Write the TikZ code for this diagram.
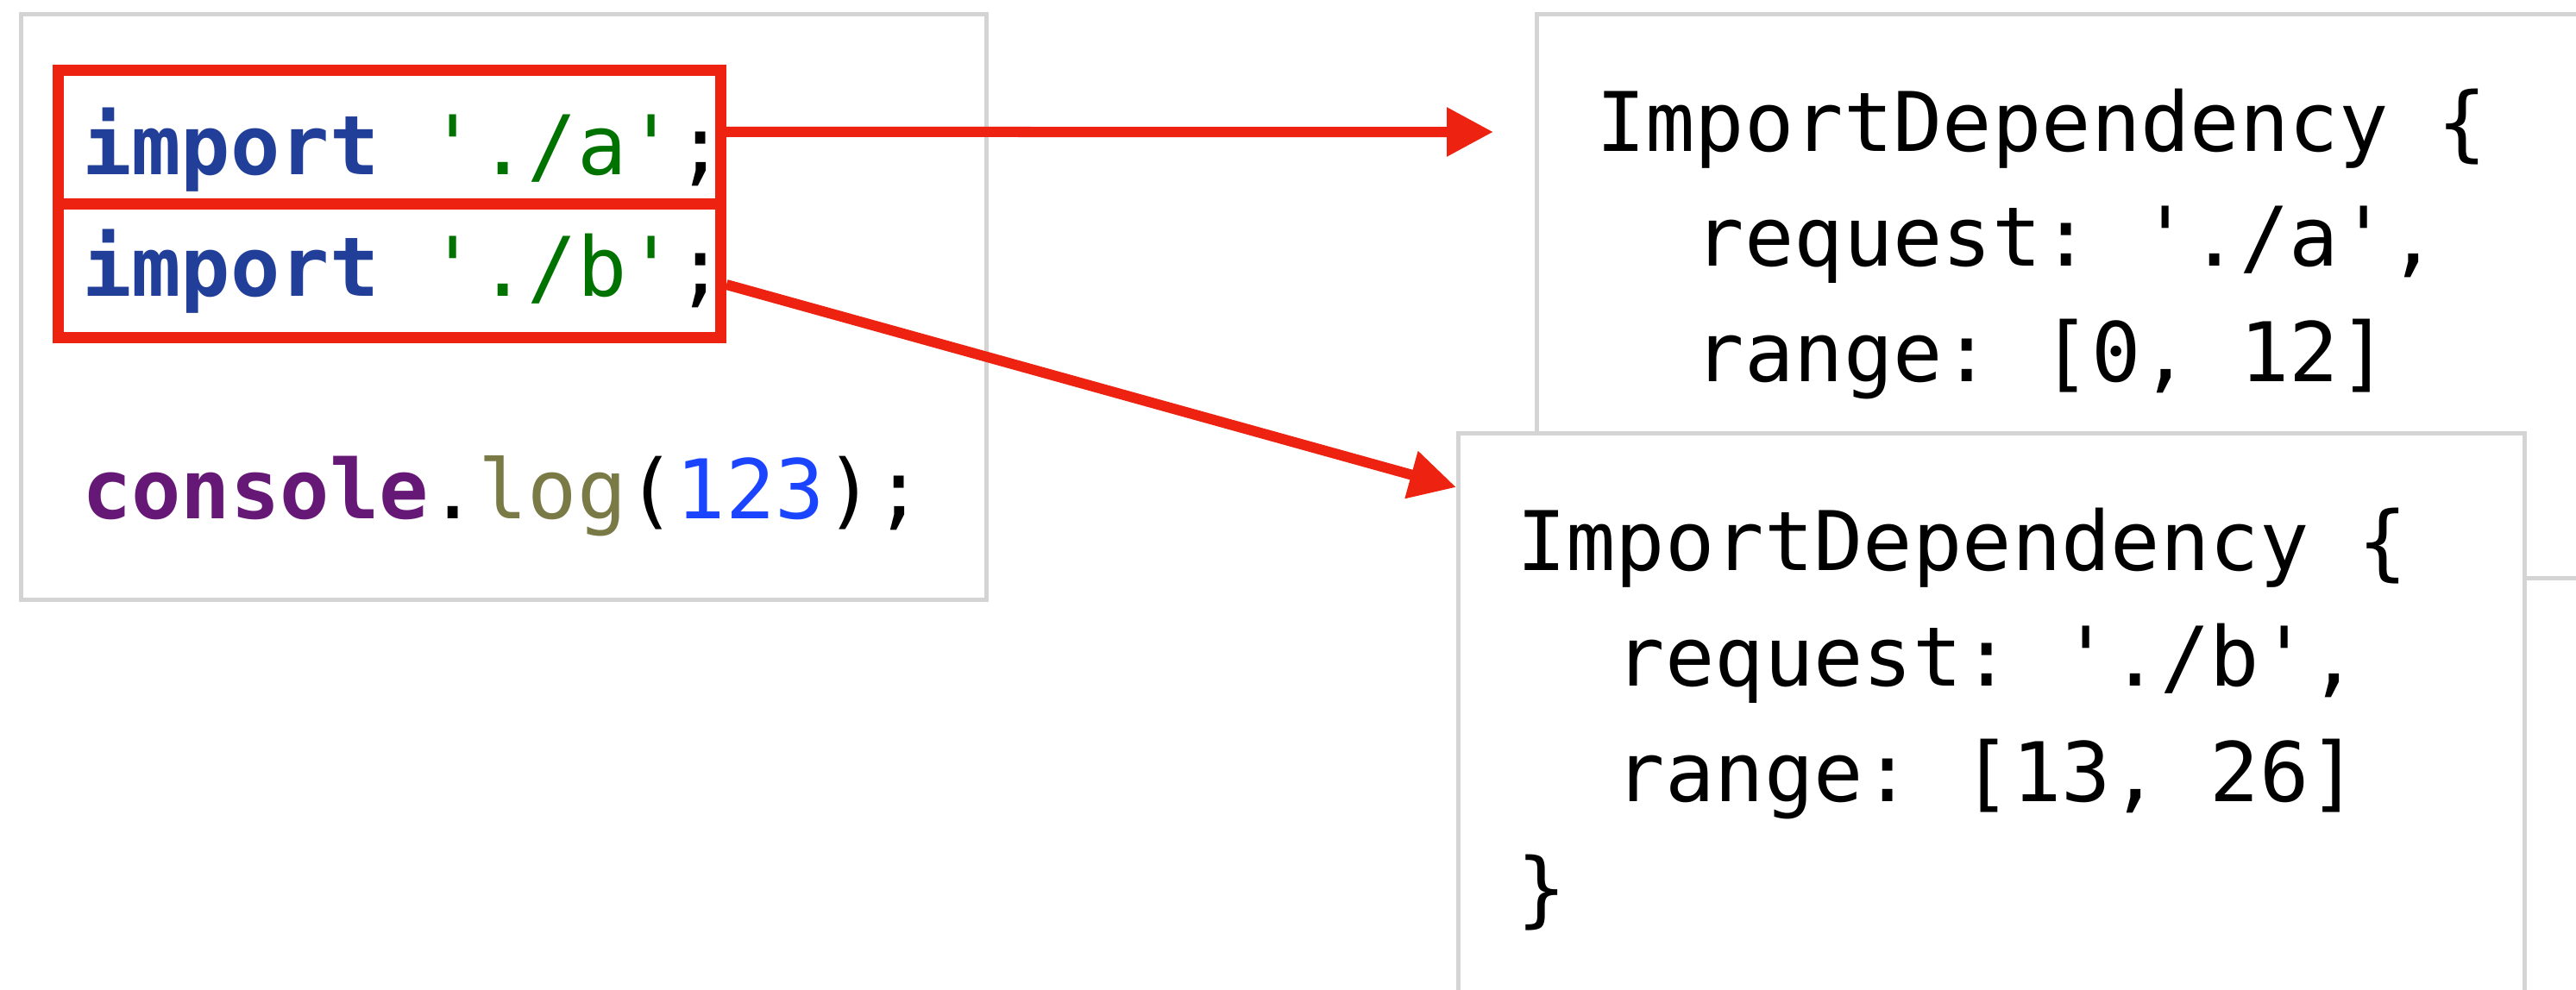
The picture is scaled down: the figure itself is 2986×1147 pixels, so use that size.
\documentclass[tikz,border=0pt]{standalone}
\usepackage{fontspec}
\setmonofont{DejaVu Sans Mono}
\usetikzlibrary{arrows.meta}
\definecolor{kwblue}{HTML}{213F99}
\definecolor{strgreen}{HTML}{007200}
\definecolor{objpurple}{HTML}{661877}
\definecolor{fnolive}{HTML}{7A7A47}
\definecolor{numblue}{HTML}{1A44FF}
\definecolor{hlred}{HTML}{EE2211}
\definecolor{framegray}{HTML}{D4D4D4}
\begin{document}
\begin{tikzpicture}[x=0.25pt,y=-0.25pt,
  code/.style={anchor=base west, inner sep=0pt, outer sep=0pt,
    font=\ttfamily\fontsize{23.84}{28}\selectfont},
  grayframe/.style={draw=framegray, line width=1.25pt, fill=white, inner sep=0pt},
  redframe/.style={draw=hlred, line width=3.25pt, inner sep=0pt, minimum width=192pt},
  arr/.style={draw=hlred, line width=3pt, -{Triangle[length=13.5pt,width=13.5pt]}}]
\useasboundingbox (0,0) rectangle (2986,1147);
\clip (0,0) rectangle (2986,1147);

% frames
\node[grayframe, minimum width=279.625pt, minimum height=169.75pt] (src) at (583.75,355.5) {};
\node[grayframe, minimum width=354.75pt, minimum height=163.5pt] (depa) at (2490.5,343) {};

% source code
\node[code] (l1) at (95,202) {\textcolor{kwblue}{\bfseries import} \textcolor{strgreen}{'./a'};};
\node[code] (l2) at (95,343) {\textcolor{kwblue}{\bfseries import} \textcolor{strgreen}{'./b'};};
\node[code] (l3) at (95,601) {\textcolor{objpurple}{\bfseries console}.\textcolor{fnolive}{log}(\textcolor{numblue}{123});};

% highlight boxes
\node[redframe, minimum height=38.625pt] (ra) at (451.5,158.75) {};
\node[redframe, minimum height=38.875pt] (rb) at (451.5,313.75) {};

% dependency a
\node[code] (a1) at (1850,175) {ImportDependency \{};
\node[code] (a2) at (1964.8,308) {request: './a',};
\node[code] (a3) at (1964.8,442) {range: [0, 12]};

% dependency b (drawn on top)
\node[grayframe, minimum width=309pt, minimum height=199.5pt] (depb) at (2308,901) {};
\node[code] (b1) at (1758,661) {ImportDependency \{};
\node[code] (b2) at (1872.8,795) {request: './b',};
\node[code] (b3) at (1872.8,929) {range: [13, 26]};
\node[code] (b4) at (1758,1063) {\}};

% arrows
\coordinate (tipa) at (1731,153);
\coordinate (tipb) at (1688,565);
\draw[arr] ([yshift=1.44pt]ra.east) -- (tipa);
\draw[arr] ([yshift=-4.06pt]rb.east) -- (tipb);
\end{tikzpicture}
\end{document}
